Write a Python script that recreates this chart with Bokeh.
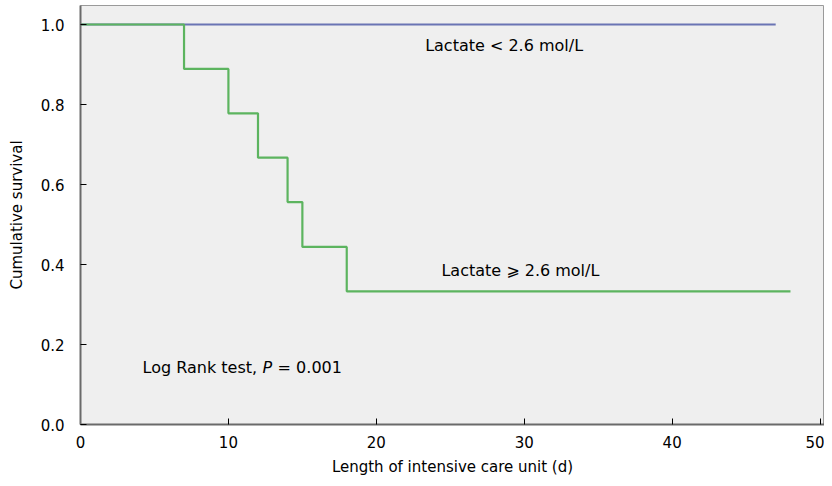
from bokeh.plotting import figure
from bokeh.models import Range1d, Label, FixedTicker
from bokeh.embed import file_html
from bokeh.resources import INLINE

# Kaplan-Meier data
low_time = [0, 47]
low_surv = [1.0, 1.0]
high_time = [0, 7, 10, 12, 14, 15, 18, 48]
high_surv = [1.0, 0.889, 0.778, 0.667, 0.556, 0.444, 0.333, 0.333]
x_ticks = [0, 10, 20, 30, 40, 50]
y_ticks = [0.0, 0.2, 0.4, 0.6, 0.8, 1.0]

FONT = "DejaVu Sans"

p = figure(width=824, height=478, output_backend="svg", toolbar_location=None,
           x_range=Range1d(0, 50.3), y_range=Range1d(0, 1.0475),
           min_border_left=80, min_border_right=0, min_border_top=5, min_border_bottom=54)

p.background_fill_color = "#efefef"
p.border_fill_color = "white"
p.outline_line_color = "#9a9a9a"
p.outline_line_width = 1
p.grid.visible = False

p.step(low_time, low_surv, mode="after", line_color="#6a74b4", line_width=2.2)
p.step(high_time, high_surv, mode="after", line_color="#5cb45f", line_width=2.2)

for ax in (p.xaxis[0], p.yaxis[0]):
    ax.major_tick_in = 6
    ax.major_tick_out = 0
    ax.minor_tick_line_color = None
    ax.axis_line_color = "#6a6a6a"
    ax.axis_line_width = 2
    ax.major_tick_line_color = "black"
    ax.major_label_text_font = FONT
    ax.major_label_text_font_size = "15px"
    ax.major_label_text_color = "black"
    ax.axis_label_text_font = FONT
    ax.axis_label_text_font_size = "15px"
    ax.axis_label_text_font_style = "normal"
    ax.axis_label_text_color = "black"

p.xaxis.ticker = FixedTicker(ticks=x_ticks)
p.yaxis.ticker = FixedTicker(ticks=y_ticks)
p.yaxis.major_label_overrides = {t: f"{t:.1f}" for t in y_ticks}
p.xaxis.axis_label = "Length of intensive care unit (d)"
p.yaxis.axis_label = "Cumulative survival"
p.xaxis.major_label_standoff = 11
p.yaxis.major_label_standoff = 16
p.xaxis.axis_label_standoff = 7
p.yaxis.axis_label_standoff = 12

def lab(x, y, text, x_offset=0, style="normal"):
    p.add_layout(Label(x=x, y=y, text=text, x_offset=x_offset, text_font=FONT,
                       text_font_size="16px", text_font_style=style,
                       text_color="black", text_baseline="middle", text_align="left"))

lab(23.3, 0.948, "Lactate < 2.6 mol/L")
lab(24.4, 0.386, "Lactate \u2a7e 2.6 mol/L")
lab(4.2, 0.143, "Log Rank test,")
lab(4.2, 0.143, "P", x_offset=120, style="italic")
lab(4.2, 0.143, "= 0.001", x_offset=135)

open("out.html", "w").write(file_html(p, INLINE))
